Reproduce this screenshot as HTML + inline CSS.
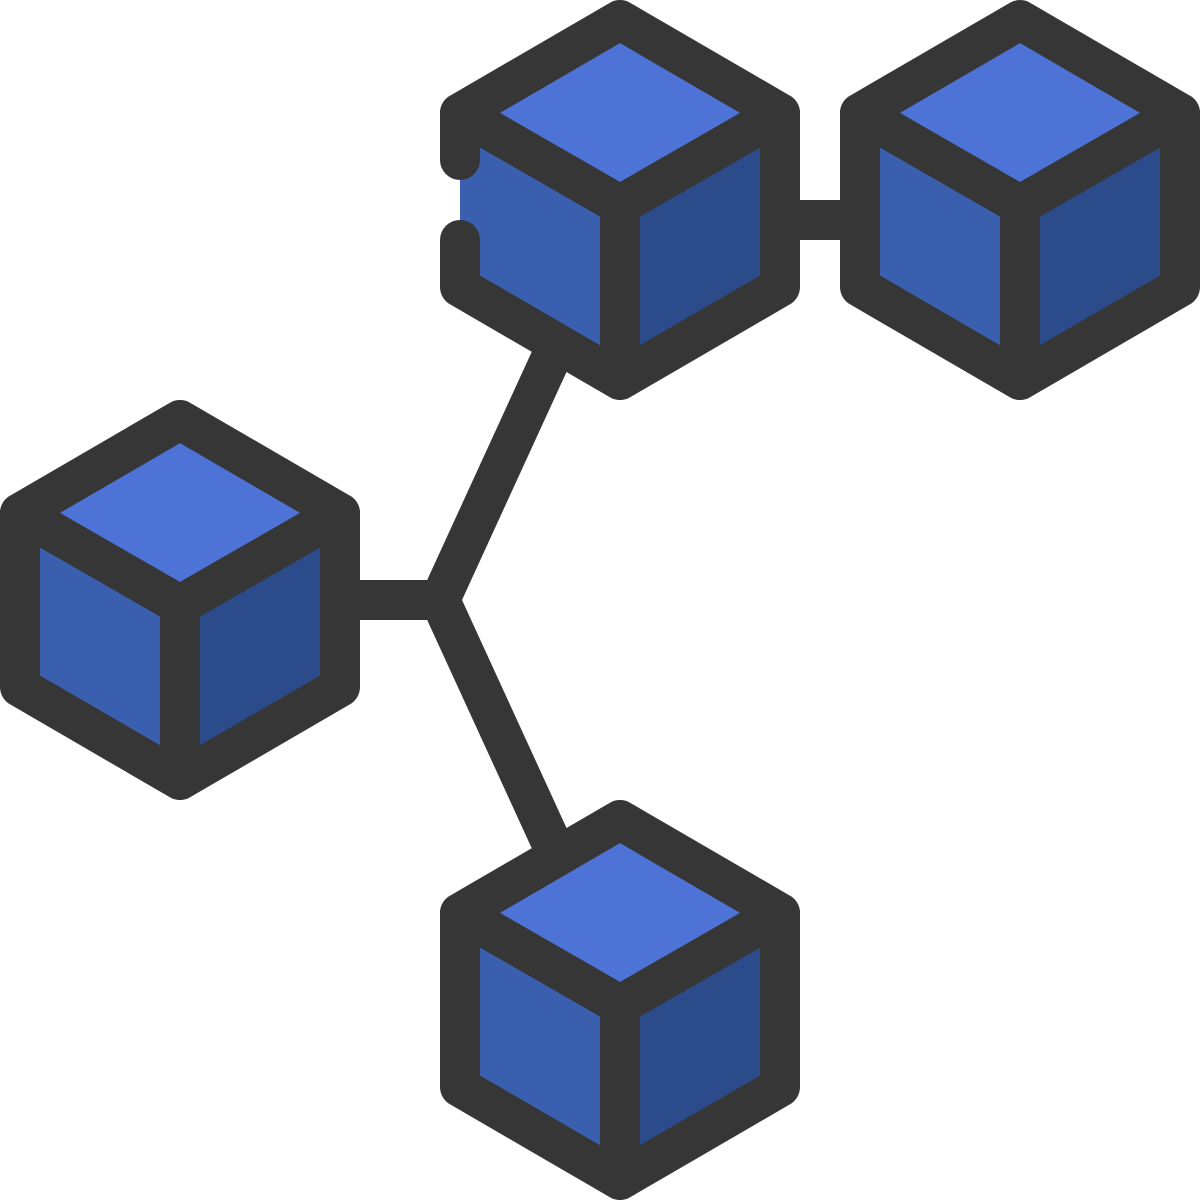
<!DOCTYPE html>
<html><head><style>html,body{margin:0;padding:0;background:#fff}svg{display:block}</style></head>
<body>
<svg width="1200" height="1200" viewBox="0 0 1200 1200" xmlns="http://www.w3.org/2000/svg">
<defs>
<g id="faces" stroke="none">
<polygon points="0,0 -160,93 0,185 160,93" fill="#4d73d6" stroke="none"/>
<polygon points="-160,93 0,185 0,360 -160,267" fill="#3a5fae" stroke="none"/>
<polygon points="160,93 0,185 0,360 160,267" fill="#2b4b8a" stroke="none"/>
</g>
</defs>
<g stroke="#363636" stroke-width="40" fill="none">
<line x1="780" y1="220" x2="860" y2="220"/>
<line x1="340" y1="600" x2="440" y2="600"/>
<polyline points="550,360 440,600 550,840" stroke-linejoin="miter" stroke-miterlimit="10"/>
</g>
<g stroke="#363636" stroke-width="40" stroke-linejoin="round" stroke-linecap="round">
<g transform="translate(620,20)">
<use href="#faces"/>
<path d="M-160,140 L-160,93 L0,0 L160,93 L160,267 L0,360 L-160,267 L-160,220" fill="none"/>
<path d="M-160,93 L0,185 L160,93 M0,185 L0,360" fill="none"/>
</g>
<g transform="translate(1020,20)">
<use href="#faces"/>
<polygon points="0,0 160,93 160,267 0,360 -160,267 -160,93" fill="none"/>
<path d="M-160,93 L0,185 L160,93 M0,185 L0,360" fill="none"/>
</g>
<g transform="translate(180,420)">
<use href="#faces"/>
<polygon points="0,0 160,93 160,267 0,360 -160,267 -160,93" fill="none"/>
<path d="M-160,93 L0,185 L160,93 M0,185 L0,360" fill="none"/>
</g>
<g transform="translate(620,820)">
<use href="#faces"/>
<polygon points="0,0 160,93 160,267 0,360 -160,267 -160,93" fill="none"/>
<path d="M-160,93 L0,185 L160,93 M0,185 L0,360" fill="none"/>
</g>
</g>
</svg>
</body></html>
